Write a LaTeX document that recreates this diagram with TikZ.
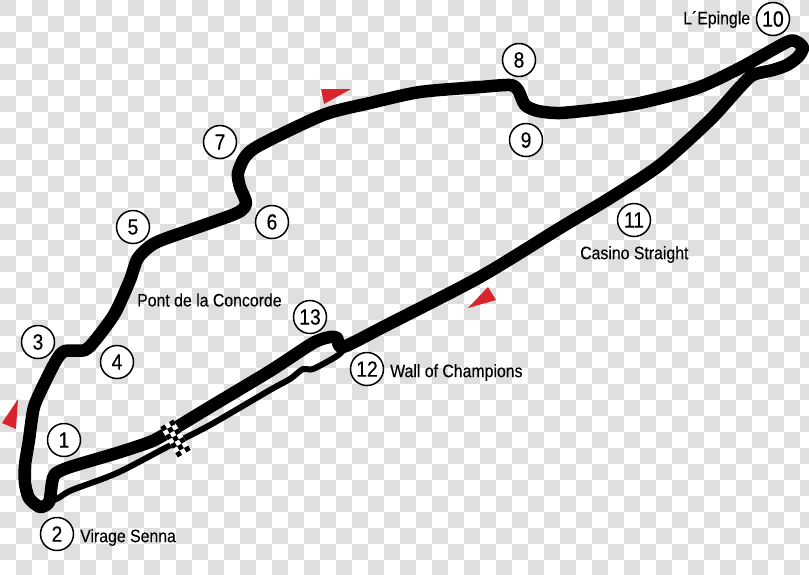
\documentclass[tikz,border=0pt]{standalone}
\usepackage{fontspec}
\setmainfont{Liberation Sans}
\newfontfamily\labelfont[FakeStretch=0.88,FakeBold=0.15]{Liberation Sans}
\newfontfamily\numfont[FakeStretch=0.88,FakeBold=0.4]{Liberation Sans}
\definecolor{chk}{HTML}{DFDFDF}
\definecolor{flagred}{HTML}{D9242E}
\tikzset{
  turn/.style={circle,draw=black,line width=1.5pt,fill=white,minimum size=33pt,inner sep=0pt,font=\numfont\fontsize{22}{22}\selectfont},
  lbl/.style={anchor=west,inner sep=0pt,font=\labelfont\fontsize{18}{18}\selectfont},
  marker/.style={fill=flagred,draw=none},
  mainroad/.style={line width=12.5pt,line join=round,line cap=round,draw=black},
  pitroad/.style={line width=6pt,line join=round,line cap=round,draw=black}
}
\begin{document}
\begin{tikzpicture}[x=1pt,y=-1pt]
\useasboundingbox (0,0) rectangle (809,574);
\begin{scope}
\clip (0,0) rectangle (809,574);
\fill[white] (0,0) rectangle (809,574);
\foreach \i in {0,...,50}{\foreach \j in {0,...,35}{
  \pgfmathparse{int(mod(\i+\j,2))}
  \ifnum\pgfmathresult=0 \fill[chk] (16*\i,16*\j) rectangle (16*\i+16,16*\j+16);\fi
}}
\end{scope}
% pit lane
\draw[pitroad] plot[smooth,tension=.5] coordinates {(50,502) (60,497) (72,490) (117,473) (167,447) (210,425) (270,390) (290,379) (303,369) (313,369) (337,356) (344,349)};
% main circuit
\draw[mainroad] plot[smooth cycle,tension=.45] coordinates {
 (46,380) (34,407) (29,440) (25,465) (25,483) (29,498) (40,507) (49,502) (52,483) (55,474) (70,467)
 (117,453) (150,442) (167,433) (210,407) (270,371) (313,343) (330,337) (337,338) (343,347)
 (387,325) (480,277) (560,228) (610,198) (660,165) (710,120) (740,87) (753,75) (773,70) (787,65) (798,57) (803,48) (797,42) (787,42)
 (740,68) (697,88) (640,103) (600,109) (560,113) (538,111) (525,105) (518,90) (510,85) (480,87)
 (420,92) (370,103) (323,115) (260,145) (245,157) (238,173) (240,187) (246,203) (237,213) (190,230)
 (155,243) (138,258) (130,280) (115,313) (97,338) (85,350) (65,351) (57,359) };
% start/finish flag
\begin{scope}[shift={(175.5,438.5)},x={(2.5pt,-4.33pt)},y={(4.33pt,2.5pt)}]
\fill[white] (-3.5,-1.5) -- (3.5,-1.5) -- (3.5,1.5) -- (-3.5,1.5) -- cycle;
\foreach \i in {0,...,6}{\foreach \j in {0,1,2}{
  \pgfmathparse{int(mod(\i+\j,2))}
  \ifnum\pgfmathresult=0 \fill[black] (\i-3.5,\j-1.5) -- (\i-2.5,\j-1.5) -- (\i-2.5,\j-0.5) -- (\i-3.5,\j-0.5) -- cycle;\fi
}}
\end{scope}
% red markers
\fill[marker] (18,399) -- (2,423) -- (16,429) -- cycle;
\fill[marker] (321,89) -- (351,89) -- (324,104) -- cycle;
\fill[marker] (488,287) -- (496,300) -- (468,308) -- cycle;
% turn numbers
\node[turn] (t1) at (64,440) {1};
\node[turn] (t2) at (57,534) {2};
\node[turn] (t3) at (38,342) {3};
\node[turn] (t4) at (117,362) {4};
\node[turn] (t5) at (133,227) {5};
\node[turn] (t6) at (272,222) {6};
\node[turn] (t7) at (220,142) {7};
\node[turn] (t8) at (519,60) {8};
\node[turn] (t9) at (526,140) {9};
\node[turn] (t10) at (773,19) {10};
\node[turn] (t11) at (634,220) {11};
\node[turn] (t12) at (367,369) {12};
\node[turn] (t13) at (310,317) {13};
% labels
\node[lbl] (senna) at (80,537.5) {Virage Senna};
\node[lbl] (pont) at (137,300) {Pont de la Concorde};
\node[lbl] (wall) at (390,372.5) {Wall of Champions};
\node[lbl] (casino) at (580,254.5) {Casino Straight};
\node[lbl] (epingle) at (683,19.5) {L´Epingle};
\end{tikzpicture}
\end{document}
